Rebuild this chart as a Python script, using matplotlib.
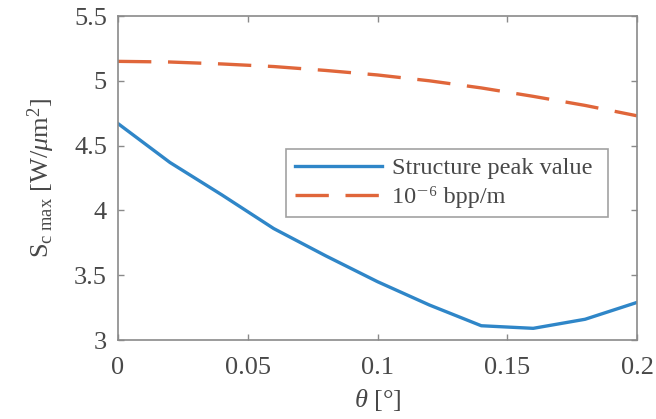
import matplotlib
matplotlib.use("Agg")
import matplotlib.pyplot as plt

# -------------------------------------------------
# Data
# -------------------------------------------------

theta = [0.0, 0.02, 0.04, 0.06, 0.08, 0.10, 0.12, 0.14, 0.16, 0.18, 0.20]
peak_value = [4.67, 4.37, 4.12, 3.86, 3.65, 3.45, 3.27, 3.11, 3.09, 3.16, 3.29]
bpp_limit = [5.15, 5.145, 5.13, 5.11, 5.08, 5.045, 5.0, 4.945, 4.88, 4.81, 4.73]

xticks = [0, 0.05, 0.1, 0.15, 0.2]
xtick_labels = ["0", "0.05", "0.1", "0.15", "0.2"]
yticks = [3, 3.5, 4, 4.5, 5, 5.5]
ytick_labels = ["3", "3.5", "4", "4.5", "5", "5.5"]

# -------------------------------------------------
# Style
# -------------------------------------------------

plt.rcParams["font.family"] = ["Liberation Serif", "DejaVu Serif"]
plt.rcParams["mathtext.fontset"] = "custom"
plt.rcParams["mathtext.rm"] = "Liberation Serif"
plt.rcParams["mathtext.it"] = "Liberation Serif:italic"

text_color = "#484848"
spine_color = "#8a8a8a"

fig = plt.figure(figsize=(6.56, 4.19), dpi=100)
ax = fig.add_axes([118 / 656, 1 - 340 / 419, 519 / 656, 324 / 419])

ax.plot(theta, peak_value, color="#2f86c8", linewidth=2.4,
        label="Structure peak value")
ax.plot(theta, bpp_limit, color="#e0663a", linewidth=2.4,
        linestyle=(0, (10, 5)), label="10\u207b\u2076 bpp/m")

ax.set_xlim(0, 0.2)
ax.set_ylim(3, 5.5)
ax.set_xticks(xticks)
ax.set_xticklabels(xtick_labels)
ax.set_yticks(yticks)
ax.set_yticklabels(ytick_labels)

ax.tick_params(direction="in", top=True, right=True, length=4,
               width=1, colors=spine_color, labelcolor=text_color,
               labelsize=19, pad=8)
ax.tick_params(axis="x", pad=12)
for spine in ax.spines.values():
    spine.set_color(spine_color)
    spine.set_linewidth(1.2)

ax.set_xlabel(r"$\theta$ [°]", fontsize=19, color=text_color, labelpad=6)
ax.set_ylabel(r"S$_{\rm c\ max}$ [W/$\mu$m$^2$]", fontsize=19,
              color=text_color, labelpad=12)

leg = ax.legend(loc="lower left", bbox_to_anchor=(0.324, 0.38, 0.62, 0.231),
                mode="expand", fontsize=17.5, frameon=True, fancybox=False,
                borderaxespad=0, handlelength=3.6, handletextpad=0.4,
                labelspacing=0.3, borderpad=0.35)
leg.get_frame().set_edgecolor(spine_color)
leg.get_frame().set_linewidth(1.2)
for t in leg.get_texts():
    t.set_color(text_color)

fig.savefig("out.png", dpi=100)
plt.close(fig)
